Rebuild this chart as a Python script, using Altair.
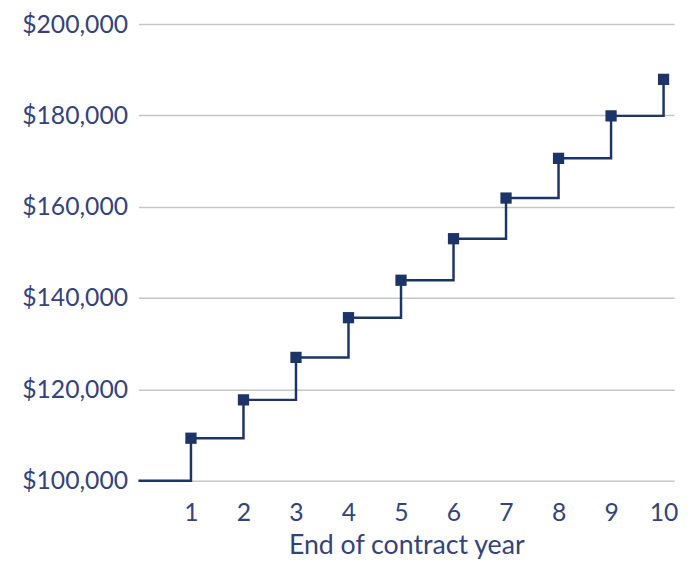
import altair as alt
import pandas as pd

years = [0, 1, 2, 3, 4, 5, 6, 7, 8, 9, 10]
values = [100000, 109300, 117700, 127000, 135700, 143900, 153000, 161900, 170600, 179900, 187900]

df = pd.DataFrame({"year": years, "value": values})
pts = df[df["year"] > 0]

TEXT = "#34437a"
NAVY = "#1c3468"
FONT = "Lato"

x = alt.X("year:Q", scale=alt.Scale(domain=[0, 10.2], nice=False),
          axis=alt.Axis(values=list(range(1, 11)), title="End of contract year",
                        grid=False, domain=False, ticks=False, labelPadding=20,
                        titlePadding=8, format="d", titleFontSize=27))
y = alt.Y("value:Q", scale=alt.Scale(domain=[100000, 200000], nice=False),
          axis=alt.Axis(values=[100000, 120000, 140000, 160000, 180000, 200000],
                        format="$,.0f", title=None, domain=False, ticks=False,
                        labelPadding=11, grid=True))

line = alt.Chart(df).mark_line(interpolate="step-after", color=NAVY, strokeWidth=2.5).encode(x=x, y=y)
marks = alt.Chart(pts).mark_square(color=NAVY, size=130, opacity=1).encode(x="year:Q", y="value:Q")

chart = (line + marks).properties(
    width=542, height=462,
    autosize=alt.AutoSizeParams(type="none"),
    padding={"left": 132, "top": 13, "right": 6, "bottom": 80},
).configure_view(stroke=None).configure_axis(
    labelFont=FONT, titleFont=FONT, labelFontSize=25,
    labelFontWeight=400, titleFontWeight=400,
    labelColor=TEXT, titleColor=TEXT,
    gridColor="#c6c6c6", gridWidth=1.5,
)

chart.save("out.html", embed_options={"renderer": "svg", "actions": False})
